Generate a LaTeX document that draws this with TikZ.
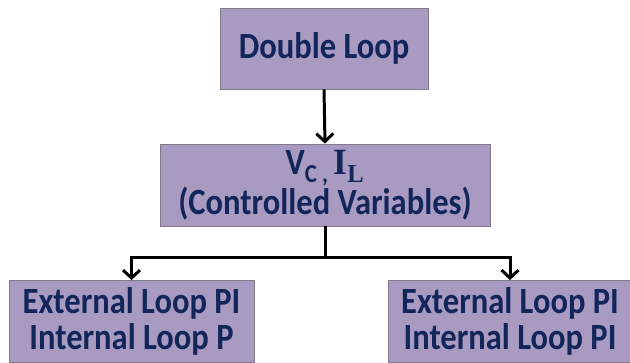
\documentclass[tikz,border=0pt]{standalone}
\usepackage{fontspec}
\setmainfont{Carlito}[FakeStretch=0.88]
\newfontfamily\serifb{Liberation Serif}[FakeStretch=0.95]
\usetikzlibrary{arrows.meta}
\definecolor{boxfill}{HTML}{A99AC2}
\definecolor{boxline}{HTML}{7F7A8A}
\definecolor{navy}{HTML}{12265A}
\begin{document}
\begin{tikzpicture}[x=1pt,y=-1pt,
  box/.style={draw=boxline, line width=0.8pt, fill=boxfill, text=navy, font=\fontsize{37}{36}\selectfont\bfseries, align=center, inner sep=0pt},
  conn/.style={line width=3pt, black, -{Straight Barb[length=8pt,width=17pt,line width=3pt]}},
  line/.style={line width=3pt, black}]
\useasboundingbox (0,0) rectangle (630,363);
\fill[white] (0,0) rectangle (630,363);
\node[box, minimum width=208pt, minimum height=81pt] (top) at (324,48.5) {Double Loop};
\node[box, minimum width=330pt, minimum height=82pt] (mid) at (325,185) {V\textsubscript{C , }{\serifb I\textsubscript{L}}\\(Controlled Variables)};
\node[box, minimum width=245pt, minimum height=82pt] (left) at (131.5,321.5) {External Loop PI\\Internal Loop P};
\node[box, minimum width=244pt, minimum height=82pt] (right) at (510,321.5) {External Loop PI\\Internal Loop PI};
\coordinate (j) at (325,258);
\draw[conn] (top.south) -- (mid.north);
\draw[line] (mid.south) -- (j);
\draw[conn] (j) -| (left.north);
\draw[conn] (j) -| (right.north);
\end{tikzpicture}
\end{document}
